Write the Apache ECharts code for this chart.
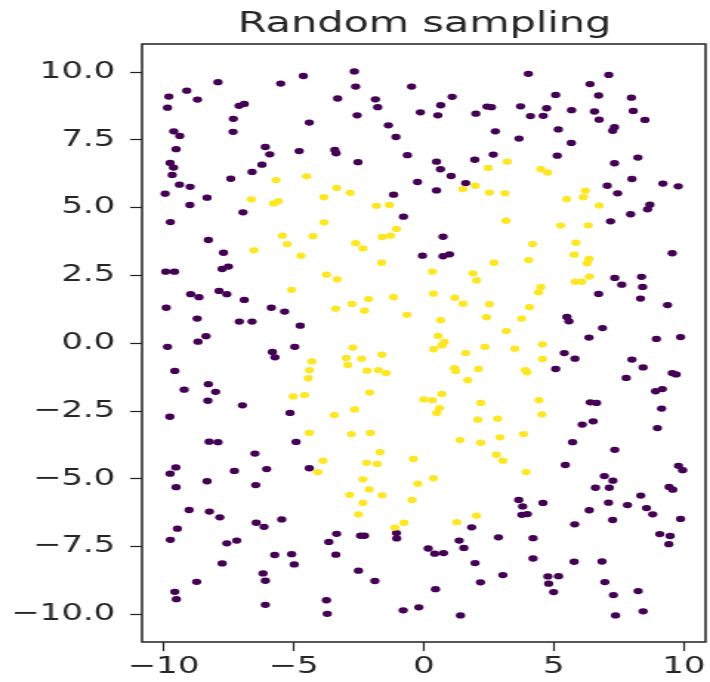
<!DOCTYPE html>
<html>
<head>
<meta charset="utf-8">
<script src="https://cdn.jsdelivr.net/npm/echarts@6/dist/echarts.min.js"></script>
<style>
html, body { margin: 0; padding: 0; background: #fff; overflow: hidden; }
/* the reference picture is stretched sideways, so the chart is drawn narrow and widened */
#chart { width: 480px; height: 682px; transform: scaleX(1.4792); transform-origin: 0 0; }
</style>
</head>
<body>
<div id="chart"></div>
<script>
const titleText = 'Random sampling'
const xTicks = [-10, -5, 0, 5, 10]
const yTicks = [-10, -7.5, -5, -2.5, 0, 2.5, 5, 7.5, 10]

// outer class (label 0)
const purplePoints = [
  [-7.91, 9.62], [-9.11, 9.31], [-9.80, 9.09], [-8.70, 8.98], [-9.85, 8.68], [-5.50, 9.57], [-4.63, 9.85], [-7.10, 8.75],
  [-6.90, 8.82], [-7.32, 8.27], [-4.40, 8.13], [-9.61, 7.81], [-9.38, 7.64], [-7.33, 7.79], [-9.52, 7.15], [-6.09, 7.23],
  [-5.92, 6.96], [-4.79, 7.08], [-9.75, 6.64], [-9.62, 6.47], [-9.67, 6.20], [-6.22, 6.58], [-6.60, 6.31], [-7.42, 6.06],
  [-9.39, 5.84], [-8.98, 5.76], [-9.94, 5.51], [-8.33, 5.36], [-8.99, 5.09], [-6.95, 4.82], [-9.74, 4.46], [-8.28, 3.80],
  [-2.67, 10.02], [-2.62, 9.46], [-0.47, 9.46], [-3.31, 9.02], [-1.86, 8.99], [-1.77, 8.70], [1.09, 9.08], [0.65, 8.77],
  [-2.56, 8.40], [-0.13, 8.51], [0.54, 8.40], [2.00, 8.46], [2.43, 8.72], [2.60, 8.70], [-1.36, 8.03], [-1.07, 7.60],
  [2.75, 7.81], [-3.42, 7.12], [-3.37, 7.00], [-2.53, 6.67], [-0.63, 6.93], [0.49, 6.69], [0.64, 6.41], [1.05, 6.16],
  [1.96, 6.76], [2.67, 6.95], [-0.24, 5.94], [1.61, 5.90], [0.49, 5.63], [-1.16, 5.47], [-0.78, 4.66], [0.74, 3.92],
  [4.02, 9.93], [7.11, 9.89], [6.39, 9.55], [5.07, 9.15], [6.72, 9.13], [7.98, 9.05], [3.72, 8.73], [4.72, 8.66],
  [4.10, 8.37], [4.59, 8.38], [5.68, 8.59], [6.56, 8.54], [6.74, 8.24], [8.05, 8.56], [8.50, 8.23], [5.17, 7.88],
  [7.33, 7.96], [7.26, 7.83], [3.66, 7.54], [5.67, 7.38], [5.13, 6.91], [7.33, 6.63], [8.23, 6.84], [8.00, 6.05],
  [7.05, 5.80], [7.45, 5.52], [9.19, 5.88], [9.78, 5.78], [8.69, 5.10], [8.60, 4.93], [7.95, 4.75], [7.18, 4.49],
  [-7.70, 3.33], [-9.92, 2.63], [-9.58, 2.63], [-7.75, 2.73], [-7.51, 2.82], [-8.96, 1.80], [-8.64, 1.69], [-7.87, 1.92],
  [-7.57, 1.80], [-6.90, 1.59], [-9.90, 1.30], [-5.86, 1.30], [-5.35, 1.16], [-8.71, 0.90], [-7.09, 0.79], [-6.60, 0.79],
  [-4.75, 0.64], [-8.37, 0.25], [-8.68, 0.05], [-9.85, -0.14], [-4.96, -0.14], [-5.82, -0.33], [-5.72, -0.53], [-9.57, -1.03],
  [-8.28, -1.52], [-8.00, -1.80], [-9.21, -1.72], [-8.30, -2.13], [-6.97, -2.30], [-5.14, -2.58], [-9.76, -2.72], [-8.25, -3.64],
  [-7.91, -3.66], [-4.91, -3.65], [-0.05, 3.22], [0.74, 3.20], [0.99, 3.27],
  [9.55, 3.31], [7.34, 2.40], [7.61, 2.15], [8.37, 2.44], [8.41, 2.07], [8.33, 1.64], [6.72, 1.81], [9.37, 1.40],
  [5.50, 0.96], [5.58, 0.80], [6.87, 0.55], [6.35, 0.20], [8.94, 0.15], [9.87, 0.22], [5.40, -0.37], [5.81, -0.58],
  [5.07, -0.96], [8.00, -0.61], [8.43, -0.90], [7.78, -1.29], [9.55, -1.11], [9.70, -1.16], [8.91, -1.78], [9.17, -1.70],
  [6.40, -2.19], [6.64, -2.21], [9.14, -2.42], [6.09, -3.01], [6.51, -2.89], [8.98, -3.14], [5.72, -3.66],
  [-6.49, -4.08], [-9.53, -4.59], [-9.75, -4.82], [-7.28, -4.72], [-6.04, -4.65], [-4.40, -4.62], [-8.33, -5.10], [-6.46, -5.24],
  [-9.52, -5.32], [-9.02, -6.16], [-8.24, -6.22], [-7.84, -6.43], [-6.44, -6.63], [-6.14, -6.78], [-5.46, -6.51], [-9.47, -6.85],
  [-9.74, -7.26], [-7.57, -7.39], [-7.19, -7.29], [-3.65, -7.34], [-5.73, -7.82], [-5.08, -7.79], [-4.98, -8.17], [-7.75, -8.13],
  [-6.18, -8.50], [-6.09, -8.77], [-8.73, -8.81], [-9.57, -9.18], [-9.51, -9.45], [-6.09, -9.66], [-3.74, -9.49], [-3.71, -9.99],
  [-3.35, -7.04], [-2.43, -7.11], [-2.28, -7.11], [-1.05, -7.01], [-1.04, -7.21], [-3.38, -7.81], [0.17, -7.58], [0.42, -7.77],
  [0.76, -7.75], [1.84, -6.80], [1.36, -7.29], [1.54, -7.56], [2.87, -7.17], [1.97, -8.12], [-2.51, -8.40], [-1.88, -8.78],
  [2.18, -8.83], [3.04, -8.56], [0.45, -9.08], [-0.79, -9.86], [-0.19, -9.75], [1.41, -10.05],
  [7.34, -3.94], [5.44, -4.50], [9.79, -4.53], [9.95, -4.69], [6.94, -4.91], [7.27, -5.08], [6.60, -5.34], [7.13, -5.34],
  [9.43, -5.31], [9.57, -5.41], [8.34, -5.63], [3.65, -5.79], [3.80, -6.03], [4.58, -5.90], [3.77, -6.34], [3.98, -6.31],
  [7.10, -5.89], [7.83, -5.98], [8.56, -6.09], [8.80, -6.32], [6.36, -6.17], [7.26, -6.53], [9.87, -6.49], [5.80, -6.69],
  [9.07, -7.05], [9.47, -7.12], [9.42, -7.42], [4.20, -7.20], [4.20, -7.95], [5.78, -8.07], [6.85, -8.06], [4.77, -8.61],
  [5.18, -8.60], [4.80, -8.88], [4.99, -9.19], [6.96, -8.82], [7.29, -9.30], [8.24, -9.15], [7.37, -10.05], [8.43, -9.90]
]

// inner class (label 1)
const yellowPoints = [
  [-5.68, 6.01], [-4.50, 6.15], [-6.63, 5.30], [-5.77, 5.15], [-5.59, 5.23], [-3.84, 5.38], [-3.83, 4.45], [-5.44, 3.96],
  [-4.26, 3.94], [-5.25, 3.65], [-3.35, 5.72], [-2.83, 5.54], [-1.82, 5.06], [-1.32, 5.09], [-1.05, 4.21], [-1.60, 3.91],
  [-1.28, 3.96], [-2.62, 3.68], [1.50, 5.68], [1.98, 5.80], [2.48, 6.46], [3.21, 6.69], [2.52, 5.55], [3.12, 5.52],
  [3.16, 4.51], [4.50, 6.41], [4.76, 6.29], [6.21, 5.62], [6.13, 5.38], [5.49, 5.31], [6.74, 5.07], [5.26, 4.33],
  [6.32, 4.34], [5.85, 3.70], [4.18, 3.65], [-6.53, 3.42], [-4.72, 3.22], [-3.74, 2.52], [-5.08, 1.96], [-4.30, -0.68],
  [-4.39, -1.00], [-4.44, -1.30], [-5.02, -1.97], [-4.58, -1.92], [-4.40, -3.32],
  [-2.34, 3.49], [-1.62, 2.96], [-3.33, 2.35], [0.33, 2.63], [1.89, 2.57], [2.03, 2.31], [2.70, 2.96], [0.37, 1.82],
  [1.19, 1.67], [1.51, 1.45], [2.52, 1.43], [2.41, 0.95], [-2.12, 1.62], [-1.16, 1.69], [-2.76, 1.44], [-3.39, 1.27],
  [-2.28, 1.19], [-0.65, 1.04], [0.65, 0.84], [3.17, 0.44], [0.55, 0.26], [0.79, 0.04], [0.70, -0.09], [0.38, -0.23],
  [1.61, -0.37], [2.35, -0.14], [3.50, -0.21], [-2.73, -0.17], [-2.98, -0.55], [-2.39, -0.58], [-1.61, -0.43], [-2.92, -0.81],
  [-2.18, -1.02], [-1.75, -1.00], [-1.45, -1.11], [1.18, -0.93], [1.23, -1.03], [2.10, -0.96], [1.69, -1.37], [-2.08, -1.83],
  [0.00, -2.08], [0.33, -2.11], [0.69, -1.88], [0.61, -2.40], [0.50, -2.58], [2.19, -2.21], [-2.66, -2.45], [-3.44, -2.66],
  [2.08, -2.83], [2.84, -2.79], [-2.78, -3.36], [-2.05, -3.32], [1.39, -3.58], [2.19, -3.68], [2.93, -3.48],
  [4.03, 3.06], [5.78, 3.26], [6.35, 3.10], [6.28, 2.94], [6.37, 2.45], [5.82, 2.26], [6.08, 2.26], [4.50, 2.07],
  [4.41, 1.87], [4.06, 1.32], [3.76, 0.90], [4.56, -0.05], [4.56, -0.59], [3.90, -1.00], [3.97, -1.08], [4.43, -2.11],
  [4.54, -2.63], [3.83, -3.36], [-3.87, -4.34], [-4.07, -4.76],
  [2.79, -4.12], [3.04, -4.34], [-1.68, -4.03], [-2.20, -4.42], [-1.79, -4.46], [-0.40, -4.28], [-2.34, -5.03], [-2.10, -5.40],
  [-0.23, -5.19], [0.37, -4.99], [-2.85, -5.60], [-2.34, -5.90], [-1.60, -5.62], [-0.45, -5.79], [-2.51, -6.32], [-0.76, -6.63],
  [-1.11, -6.81], [1.27, -6.61], [2.03, -6.37], [3.93, -4.76]
]

const textColor = '#262626'
const fontName = 'DejaVu Sans'

function fmtMinus (s) { // matplotlib uses the real minus sign
  return s.replace('-', '\u2212')
}

const charts = echarts.init(document.getElementById('chart'), null, {renderer: 'canvas'})
const option = {
  animation: false,
  title: {
    text: titleText,
    left: 287,
    top: 11,
    textAlign: 'center',
    padding: 0,
    textStyle: {fontSize: 28, fontWeight: 'normal', color: textColor, fontFamily: fontName}
  },
  grid: {
    left: 96,
    right: 3,
    top: 44,
    bottom: 40,
    show: true,
    borderColor: '#222',
    borderWidth: 1.5
  },
  xAxis: {
    type: 'value',
    min: -10.83,
    max: 10.83,
    splitLine: {show: false},
    axisLine: {show: false, onZero: false},
    axisTick: {show: true, length: 9, customValues: xTicks, lineStyle: {color: '#222', width: 1.2}},
    axisLabel: {
      customValues: xTicks,
      margin: 14,
      fontSize: 23,
      color: textColor,
      fontFamily: fontName,
      formatter: v => fmtMinus(String(v))
    }
  },
  yAxis: {
    type: 'value',
    min: -11.03,
    max: 11.03,
    splitLine: {show: false},
    axisLine: {show: false, onZero: false},
    axisTick: {show: true, length: 8, customValues: yTicks, lineStyle: {color: '#222', width: 1.2}},
    axisLabel: {
      customValues: yTicks,
      margin: 18,
      fontSize: 23,
      color: textColor,
      fontFamily: fontName,
      formatter: v => fmtMinus(Number(v).toFixed(1))
    }
  },
  series: [
    {
      type: 'scatter',
      data: purplePoints,
      symbol: 'circle',
      symbolSize: 6.3,
      itemStyle: {color: '#440154', opacity: 1}
    },
    {
      type: 'scatter',
      data: yellowPoints,
      symbol: 'circle',
      symbolSize: 6.3,
      itemStyle: {color: '#fde725', opacity: 1}
    }
  ]
}
charts.setOption(option)
</script>
</body>
</html>
